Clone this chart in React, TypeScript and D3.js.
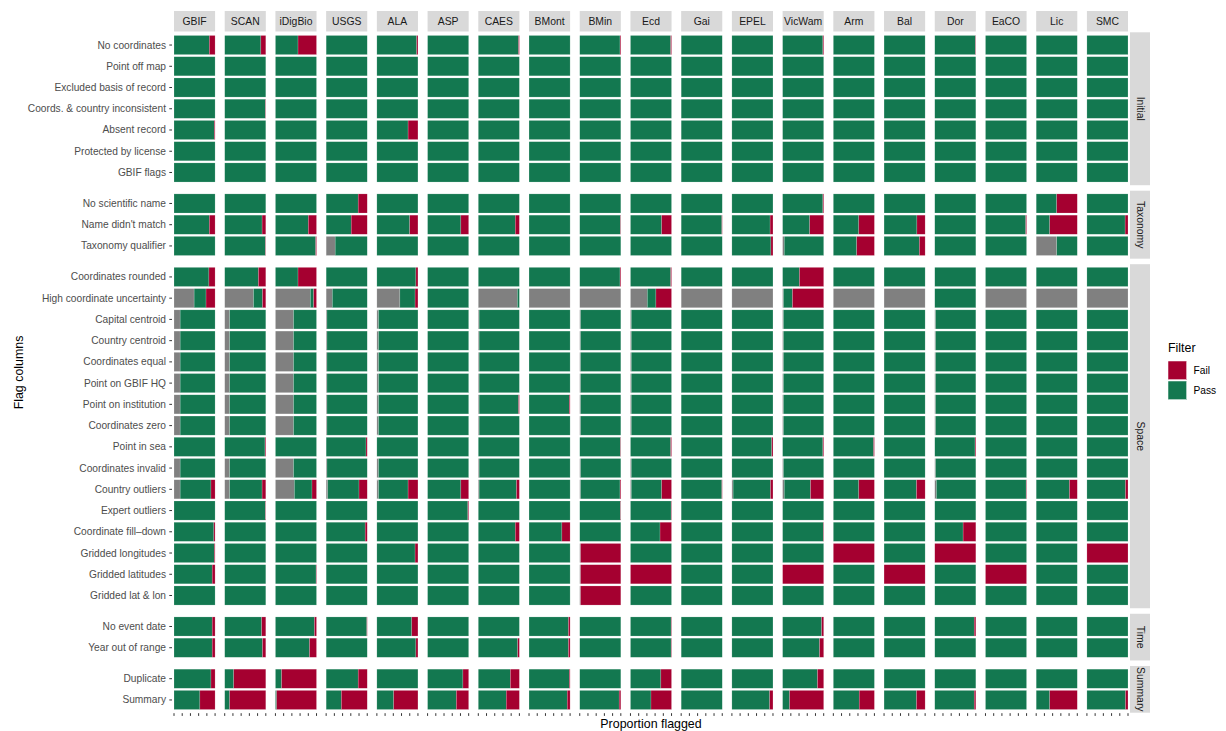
import * as d3 from 'd3';

// ── facets ──
const sources = ['GBIF', 'SCAN', 'iDigBio', 'USGS', 'ALA', 'ASP', 'CAES', 'BMont', 'BMin', 'Ecd',
  'Gai', 'EPEL', 'VicWam', 'Arm', 'Bal', 'Dor', 'EaCO', 'Lic', 'SMC'];

const groups = ['Initial', 'Taxonomy', 'Space', 'Time', 'Summary'];
const groupSizes = [7, 3, 16, 2, 2];

const flags = [
  'No coordinates', 'Point off map', 'Excluded basis of record', 'Coords. & country inconsistent',
  'Absent record', 'Protected by license', 'GBIF flags',
  'No scientific name', "Name didn't match", 'Taxonomy qualifier',
  'Coordinates rounded', 'High coordinate uncertainty', 'Capital centroid', 'Country centroid',
  'Coordinates equal', 'Point on GBIF HQ', 'Point on institution', 'Coordinates zero', 'Point in sea',
  'Coordinates invalid', 'Country outliers', 'Expert outliers', 'Coordinate fill\u2013down',
  'Gridded longitudes', 'Gridded latitudes', 'Gridded lat & lon',
  'No event date', 'Year out of range',
  'Duplicate', 'Summary',
];

// ── proportions per source: NA (grey) and Fail (red); Pass is the remainder ──
// order: Initial(7) | Taxonomy(3) | Space(16) | Time(2) | Summary(2)
const naGBIF = [0, 0, 0, 0, 0, 0, 0, 0, 0, 0, 0, 0.49, 0.15, 0.15, 0.15, 0.15, 0.15, 0.15, 0, 0.15, 0.15, 0, 0, 0, 0, 0, 0, 0, 0, 0];
const failGBIF = [0.14, 0, 0, 0, 0.02, 0, 0, 0, 0.14, 0, 0.15, 0.22, 0, 0, 0, 0, 0, 0, 0, 0, 0.1, 0, 0.03, 0.02, 0.07, 0, 0.07, 0.07, 0.1, 0.37];
const naSCAN = [0, 0, 0, 0, 0, 0, 0, 0, 0, 0, 0, 0.7, 0.12, 0.12, 0.12, 0.12, 0.12, 0.12, 0, 0.12, 0.12, 0, 0, 0, 0, 0, 0, 0, 0, 0];
const failSCAN = [0.12, 0, 0, 0.01, 0, 0, 0, 0, 0.09, 0.01, 0.18, 0.08, 0, 0, 0, 0, 0, 0, 0.02, 0, 0.09, 0.01, 0, 0, 0, 0, 0.1, 0.08, 0.78, 0.88];
const naIDigBio = [0, 0, 0, 0, 0, 0, 0, 0, 0, 0, 0, 0.85, 0.44, 0.44, 0.44, 0.44, 0.44, 0.44, 0, 0.44, 0.46, 0, 0, 0, 0, 0, 0, 0, 0, 0];
const failIDigBio = [0.45, 0, 0, 0, 0, 0, 0, 0, 0.2, 0.02, 0.45, 0.07, 0, 0, 0, 0, 0, 0, 0, 0, 0.11, 0, 0, 0, 0.01, 0, 0.05, 0.17, 0.85, 0.97];
const naUSGS = [0, 0, 0, 0, 0, 0, 0, 0, 0, 0.22, 0, 0.15, 0.02, 0.02, 0.02, 0.02, 0.02, 0.02, 0, 0.02, 0.04, 0, 0, 0, 0, 0, 0, 0, 0, 0];
const failUSGS = [0, 0, 0, 0, 0, 0, 0, 0.22, 0.39, 0, 0, 0, 0, 0, 0, 0, 0, 0, 0.03, 0, 0.2, 0, 0.05, 0, 0, 0, 0.01, 0, 0.22, 0.63];
const naALA = [0, 0, 0, 0, 0, 0, 0, 0, 0, 0, 0, 0.56, 0.04, 0.04, 0.04, 0.04, 0.04, 0.04, 0, 0.04, 0.04, 0, 0, 0, 0, 0, 0, 0, 0, 0];
const failALA = [0.03, 0, 0, 0, 0.24, 0, 0, 0, 0.2, 0, 0.05, 0.07, 0, 0, 0, 0, 0, 0, 0, 0, 0.24, 0, 0, 0.07, 0, 0, 0.15, 0.05, 0, 0.59];
const naASP = [0, 0, 0, 0, 0, 0, 0, 0, 0, 0, 0, 0, 0, 0, 0, 0, 0, 0, 0, 0, 0, 0, 0, 0, 0, 0, 0, 0, 0, 0];
const failASP = [0, 0, 0, 0, 0, 0, 0, 0, 0.19, 0, 0, 0, 0, 0, 0, 0, 0, 0, 0, 0, 0.19, 0.02, 0, 0, 0, 0, 0, 0, 0.14, 0.3];
const naCAES = [0, 0, 0, 0, 0, 0, 0, 0, 0, 0, 0, 0.95, 0.02, 0.02, 0.02, 0.02, 0.02, 0.02, 0, 0.02, 0.02, 0, 0, 0, 0, 0, 0, 0, 0, 0];
const failCAES = [0.02, 0, 0, 0, 0, 0, 0, 0, 0.1, 0, 0, 0, 0, 0, 0, 0, 0.02, 0, 0, 0, 0.07, 0, 0.1, 0, 0, 0, 0, 0.04, 0.22, 0.32];
const naBMont = [0, 0, 0, 0, 0, 0, 0, 0, 0, 0, 0, 1, 0, 0, 0, 0, 0, 0, 0, 0, 0, 0, 0, 0, 0, 0, 0, 0, 0, 0];
const failBMont = [0, 0, 0, 0, 0, 0, 0, 0, 0, 0, 0, 0, 0, 0, 0, 0, 0.02, 0, 0, 0, 0, 0, 0.2, 0, 0, 0, 0.04, 0.04, 0.02, 0.07];
const naBMin = [0, 0, 0, 0, 0, 0, 0, 0, 0, 0, 0, 1, 0.02, 0.02, 0.02, 0.02, 0.02, 0.02, 0, 0.02, 0.02, 0, 0, 0.02, 0.02, 0.02, 0, 0, 0, 0];
const failBMin = [0.02, 0, 0, 0, 0, 0, 0, 0, 0.01, 0, 0.02, 0, 0, 0, 0, 0, 0, 0, 0.01, 0, 0.02, 0.01, 0, 0.98, 0.98, 0.98, 0, 0, 0, 0.04];
const naEcd = [0, 0, 0, 0, 0, 0, 0, 0, 0, 0, 0, 0.41, 0.02, 0.02, 0.02, 0.02, 0.02, 0.02, 0, 0.02, 0.02, 0, 0, 0, 0, 0, 0, 0, 0, 0];
const failEcd = [0.02, 0, 0, 0, 0, 0, 0, 0, 0.24, 0, 0.02, 0.38, 0, 0, 0, 0, 0, 0, 0.02, 0, 0.24, 0.01, 0.28, 0, 1, 0, 0.01, 0.01, 0.26, 0.5];
const naGai = [0, 0, 0, 0, 0, 0, 0, 0, 0, 0, 0, 1, 0, 0, 0, 0, 0, 0, 0, 0, 0, 0, 0, 0, 0, 0, 0, 0, 0, 0];
const failGai = [0, 0, 0, 0, 0, 0, 0, 0, 0.01, 0, 0, 0, 0, 0, 0, 0, 0, 0, 0, 0, 0.01, 0, 0, 0, 0, 0, 0, 0, 0, 0];
const naEPEL = [0, 0, 0, 0, 0, 0, 0, 0, 0, 0, 0, 1, 0, 0, 0, 0, 0, 0, 0, 0, 0.03, 0, 0, 0, 0, 0, 0, 0, 0, 0];
const failEPEL = [0, 0, 0, 0, 0, 0, 0, 0, 0.07, 0.05, 0, 0, 0, 0, 0, 0, 0, 0, 0.03, 0, 0.06, 0, 0, 0, 0, 0, 0, 0, 0, 0.08];
const naVicWam = [0, 0, 0, 0, 0, 0, 0, 0, 0, 0.04, 0, 0.02, 0.02, 0.02, 0.02, 0.02, 0.02, 0.02, 0, 0.02, 0.04, 0, 0, 0, 0, 0, 0, 0, 0, 0];
const failVicWam = [0.02, 0, 0, 0, 0, 0, 0, 0.02, 0.34, 0, 0.59, 0.76, 0, 0, 0, 0, 0, 0, 0.02, 0, 0.32, 0, 0.01, 0, 1, 0, 0.05, 0.1, 0.15, 0.83];
const naArm = [0, 0, 0, 0, 0, 0, 0, 0, 0, 0, 0, 1, 0, 0, 0, 0, 0, 0, 0, 0, 0.01, 0, 0, 0, 0, 0, 0, 0, 0, 0];
const failArm = [0, 0, 0, 0, 0, 0, 0, 0, 0.38, 0.43, 0, 0, 0, 0, 0, 0, 0, 0, 0.02, 0, 0.38, 0, 0, 1, 0, 0, 0, 0, 0, 0.37];
const naBal = [0, 0, 0, 0, 0, 0, 0, 0, 0, 0, 0, 1, 0, 0, 0, 0, 0, 0, 0, 0, 0, 0, 0, 0, 0, 0, 0, 0, 0, 0];
const failBal = [0, 0, 0, 0, 0, 0, 0, 0, 0.2, 0.14, 0, 0, 0, 0, 0, 0, 0, 0, 0, 0, 0.21, 0, 0, 0, 1, 0, 0, 0, 0, 0.21];
const naDor = [0, 0, 0, 0, 0, 0, 0, 0, 0, 0, 0, 0, 0.02, 0.02, 0.02, 0.02, 0.02, 0.02, 0, 0.02, 0.04, 0, 0, 0, 0, 0, 0, 0, 0, 0];
const failDor = [0.01, 0, 0, 0, 0, 0, 0, 0, 0, 0, 0, 0, 0, 0, 0, 0, 0, 0, 0.02, 0, 0, 0, 0.31, 1, 0, 0, 0.04, 0, 0, 0.04];
const naEaCO = [0, 0, 0, 0, 0, 0, 0, 0, 0, 0, 0, 1, 0, 0, 0, 0, 0, 0, 0, 0, 0, 0, 0, 0, 0, 0, 0, 0, 0, 0];
const failEaCO = [0, 0, 0, 0, 0, 0, 0, 0, 0.02, 0, 0, 0, 0, 0, 0, 0, 0, 0, 0, 0, 0.01, 0, 0, 0, 1, 0, 0, 0, 0, 0];
const naLic = [0, 0, 0, 0, 0, 0, 0, 0, 0, 0.5, 0, 1, 0, 0, 0, 0, 0, 0, 0, 0, 0, 0, 0, 0, 0, 0, 0, 0, 0, 0];
const failLic = [0, 0, 0, 0, 0, 0, 0, 0.5, 0.67, 0, 0, 0, 0, 0, 0, 0, 0, 0, 0, 0, 0.19, 0, 0, 0, 0, 0, 0, 0, 0, 0.67];
const naSMC = [0, 0, 0, 0, 0, 0, 0, 0, 0, 0, 0, 1, 0, 0, 0, 0, 0, 0, 0, 0, 0, 0, 0, 0, 0, 0, 0, 0, 0, 0];
const failSMC = [0, 0, 0, 0, 0, 0, 0, 0, 0.07, 0, 0, 0, 0, 0, 0, 0, 0, 0, 0, 0, 0.06, 0, 0, 1, 0, 0, 0, 0, 0, 0.06];

const naBySource = [naGBIF, naSCAN, naIDigBio, naUSGS, naALA, naASP, naCAES, naBMont, naBMin, naEcd,
  naGai, naEPEL, naVicWam, naArm, naBal, naDor, naEaCO, naLic, naSMC];
const failBySource = [failGBIF, failSCAN, failIDigBio, failUSGS, failALA, failASP, failCAES, failBMont, failBMin, failEcd,
  failGai, failEPEL, failVicWam, failArm, failBal, failDor, failEaCO, failLic, failSMC];

const COLORS = { fail: '#A50030', pass: '#137850', na: '#808080', strip: '#D9D9D9' };
const FONT = '"Liberation Sans", Arial, Helvetica, sans-serif';

export default function App() {
  const width = 1226;
  const height = 731;

  // panel geometry
  const panelLeft = 174;
  const panelRight = 1128;
  const panelTop = 32.3;
  const panelBottom = 712.7;
  const gapY = 5.5;
  const totalUnits = d3.sum(groupSizes, n => n + 0.2);
  const unit = (panelBottom - panelTop - gapY * (groups.length - 1)) / totalUnits;

  const xBand = d3.scaleBand<string>().domain(sources).range([panelLeft, panelRight])
    .paddingInner(0.19).paddingOuter(0);
  const bw = xBand.bandwidth();
  const xIn = d3.scaleLinear().domain([0, 1]).range([0, bw]);

  // vertical panels
  let cursor = panelTop;
  let idx = 0;
  const panels = groups.map((g, gi) => {
    const n = groupSizes[gi];
    const h = (n + 0.2) * unit;
    const rows = flags.slice(idx, idx + n);
    const y = d3.scaleBand<string>().domain(rows).range([cursor, cursor + h])
      .paddingInner(0.1).paddingOuter(0.15);
    const p = { name: g, top: cursor, h, rows, start: idx, y };
    cursor += h + gapY;
    idx += n;
    return p;
  });

  const stack = d3.stack<{ na: number; pass: number; fail: number }>().keys(['na', 'pass', 'fail']);
  const fillFor: Record<string, string> = { na: COLORS.na, pass: COLORS.pass, fail: COLORS.fail };

  const ticks = xIn.ticks(4);

  return (
    <svg width={width} height={height} style={{ position: 'absolute', left: 0, top: 0, background: '#fff' }}
      fontFamily={FONT}>
      {/* top strips */}
      {sources.map(s => (
        <g key={`strip-${s}`}>
          <rect x={xBand(s)} y={11} width={bw} height={20.5} fill={COLORS.strip} />
          <text x={(xBand(s) as number) + bw / 2} y={21.5} textAnchor="middle" dominantBaseline="central"
            fontSize={10.4} fill="#1A1A1A">{s}</text>
        </g>
      ))}

      {/* right strips */}
      {panels.map(p => (
        <g key={`rstrip-${p.name}`}>
          <rect x={1130} y={p.top} width={20} height={p.h} fill={COLORS.strip} />
          <text transform={`translate(1140,${p.top + p.h / 2}) rotate(90)`} textAnchor="middle"
            dominantBaseline="central" fontSize={10.4} fill="#1A1A1A">{p.name}</text>
        </g>
      ))}

      {/* bars */}
      {sources.map((s, si) => (
        <g key={`col-${s}`} transform={`translate(${xBand(s)},0)`}>
          {panels.map(p => {
            const rowsData = p.rows.map((_, ri) => {
              const na = naBySource[si][p.start + ri];
              const fail = failBySource[si][p.start + ri];
              return { na, pass: Math.max(0, 1 - na - fail), fail };
            });
            const series = stack(rowsData);
            return series.map(ser => ser.map((seg, ri) => {
              const w = xIn(seg[1]) - xIn(seg[0]);
              if (w <= 0) return null;
              return (
                <rect key={`${p.name}-${ser.key}-${ri}`} x={xIn(seg[0])} y={p.y(p.rows[ri])}
                  width={w} height={p.y.bandwidth()} fill={fillFor[ser.key]}
                  stroke="#ffffff" strokeOpacity={0.35} strokeWidth={0.5} />
              );
            }));
          })}
          {/* x ticks */}
          {ticks.map(t => (
            <line key={`xt-${t}`} x1={xIn(t)} x2={xIn(t)} y1={panelBottom + 0.5} y2={panelBottom + 3.2}
              stroke="#333333" strokeWidth={1} />
          ))}
        </g>
      ))}

      {/* y axis labels */}
      {panels.map(p => p.rows.map(r => {
        const cy = (p.y(r) as number) + p.y.bandwidth() / 2;
        return (
          <g key={`yl-${r}`}>
            <line x1={169.3} x2={172} y1={cy} y2={cy} stroke="#333333" strokeWidth={1} />
            <text x={166} y={cy} textAnchor="end" dominantBaseline="central" fontSize={10.2}
              fill="#4D4D4D">{r}</text>
          </g>
        );
      }))}

      {/* axis titles */}
      <text x={(panelLeft + panelRight) / 2} y={724} textAnchor="middle" dominantBaseline="central"
        fontSize={12.4} fill="#000">Proportion flagged</text>
      <text transform={`translate(18.5,${(panelTop + panelBottom) / 2}) rotate(-90)`} textAnchor="middle"
        dominantBaseline="central" fontSize={12.4} fill="#000">Flag columns</text>

      {/* legend */}
      <g>
        <text x={1168} y={348} dominantBaseline="central" fontSize={12.4} fill="#000">Filter</text>
        {[{ k: 'Fail', c: COLORS.fail }, { k: 'Pass', c: COLORS.pass }].map((d, i) => (
          <g key={`lg-${d.k}`}>
            <rect x={1168} y={361 + i * 20} width={18.7} height={18.7} fill={d.c} stroke="#fff" strokeWidth={0.5} />
            <text x={1193.5} y={370.3 + i * 20.4} dominantBaseline="central" fontSize={10.2}
              fill="#000">{d.k}</text>
          </g>
        ))}
      </g>
    </svg>
  );
}
